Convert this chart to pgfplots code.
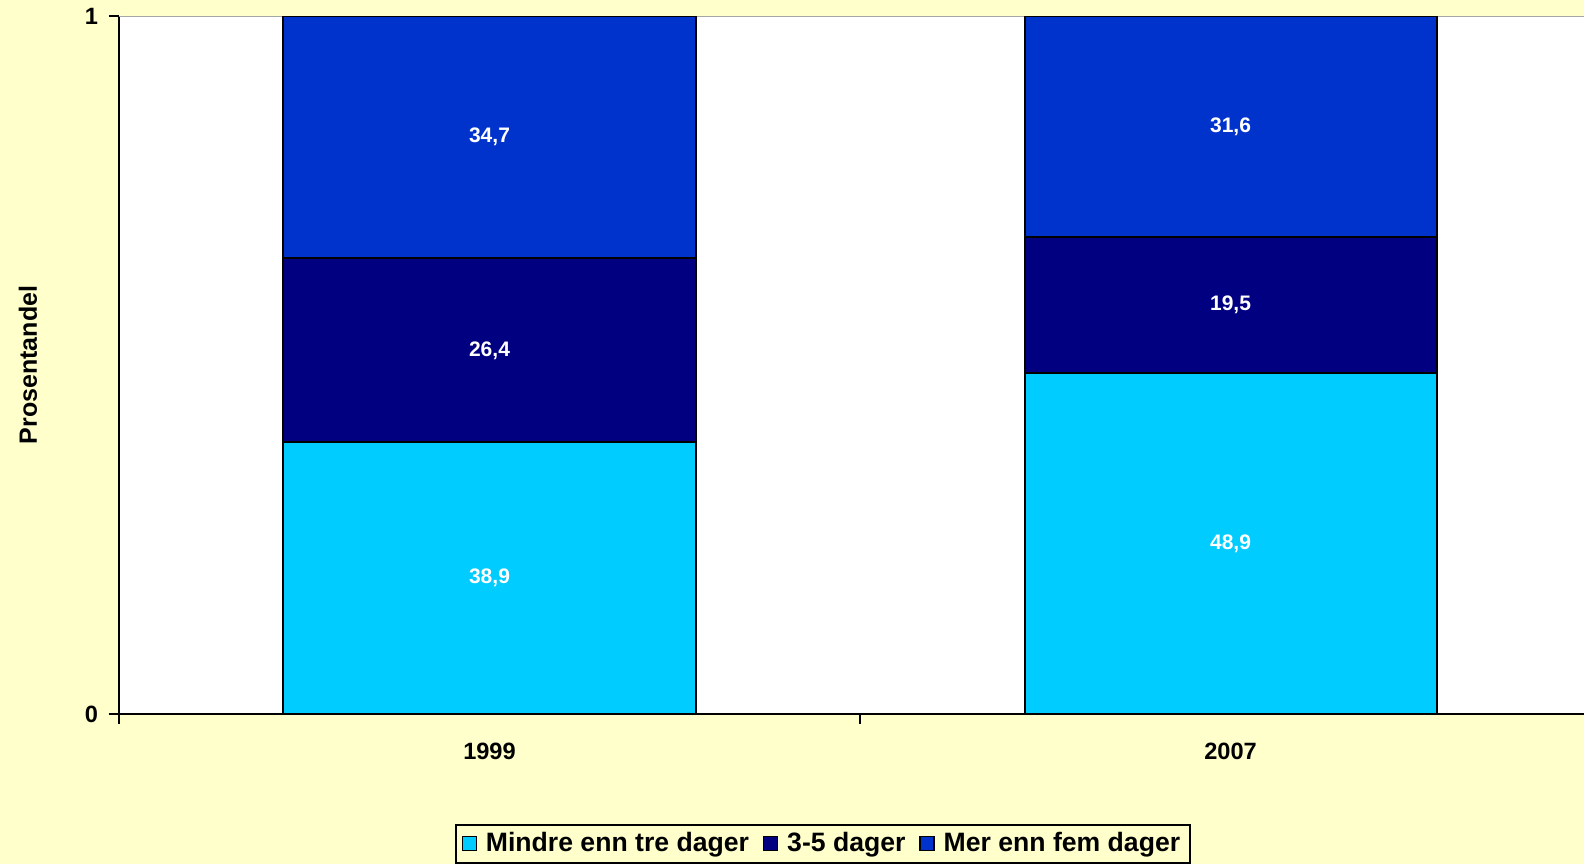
\documentclass[border=0pt]{standalone}
\usepackage{pgfplots}
\pgfplotsset{compat=1.18}
\usepackage{fontspec}
\setmainfont{Liberation Sans}
\definecolor{bgyellow}{HTML}{FFFFCC}
\definecolor{cyanbar}{HTML}{00CCFF}
\definecolor{navybar}{HTML}{000080}
\definecolor{bluebar}{HTML}{0033CC}
\begin{document}
\begin{tikzpicture}
\fill[bgyellow] (0,0) rectangle (792pt,-432pt);
\begin{axis}[
  at={(59.5pt,-8pt)}, anchor=north west,
  width=741pt, height=349pt, scale only axis,
  ybar stacked, bar width=206pt,
  xmin=-0.5, xmax=1.5, ymin=0, ymax=100,
  axis x line*=bottom, axis y line*=left,
  axis line style={black, line width=1pt},
  axis background/.style={fill=white},
  tick align=outside, major tick length=5pt,
  tick style={black, line width=1pt},
  xtick={-0.5,0.5,1.5}, xticklabels={},
  extra x ticks={0,1}, extra x tick labels={1999,2007},
  extra x tick style={tick style={draw=none}, xticklabel style={yshift=-6pt}},
  ytick={0,100}, yticklabels={0,1},
  yticklabel style={xshift=-2pt},
  ticklabel style={font=\fontsize{11.8}{13}\selectfont\bfseries},
  /pgf/number format/assume math mode=true,
  ylabel={Prosentandel},
  ylabel style={font=\fontsize{12.5}{15}\selectfont\bfseries, at={(axis description cs:-0.0614,0.5)}, anchor=center},
  nodes near coords={\pgfmathprintnumber[fixed,precision=1,fixed zerofill,use comma]{\pgfplotspointmeta}},
  every node near coord/.append style={text=white, font=\fontsize{10.5}{12}\selectfont\bfseries, anchor=center},
  legend style={at={(0.475,-0.157)}, anchor=north, legend columns=-1, draw=black, line width=1pt, fill=bgyellow,
    font=\fontsize{13.3}{16}\selectfont\bfseries,
    /tikz/every odd column/.append style={column sep=2.5pt},
    /tikz/every even column/.append style={column sep=5pt}},
  legend image code/.code={\draw[#1,draw=black,line width=0.6pt] (0pt,-3.5pt) rectangle (7pt,3.5pt);},
]
\addplot[fill=cyanbar, draw=black, line width=1pt] coordinates {(0,38.9) (1,48.9)};
\addplot[fill=navybar, draw=black, line width=1pt] coordinates {(0,26.4) (1,19.5)};
\addplot[fill=bluebar, draw=black, line width=1pt] coordinates {(0,34.7) (1,31.6)};
\legend{Mindre enn tre dager, 3-5 dager, Mer enn fem dager}
\draw[gray!70, line width=1pt] (rel axis cs:0,1) -- (rel axis cs:1,1) -- (rel axis cs:1,0);
\end{axis}
\pgfresetboundingbox
\useasboundingbox (0,0) rectangle (792pt,-432pt);
\end{tikzpicture}
\end{document}
